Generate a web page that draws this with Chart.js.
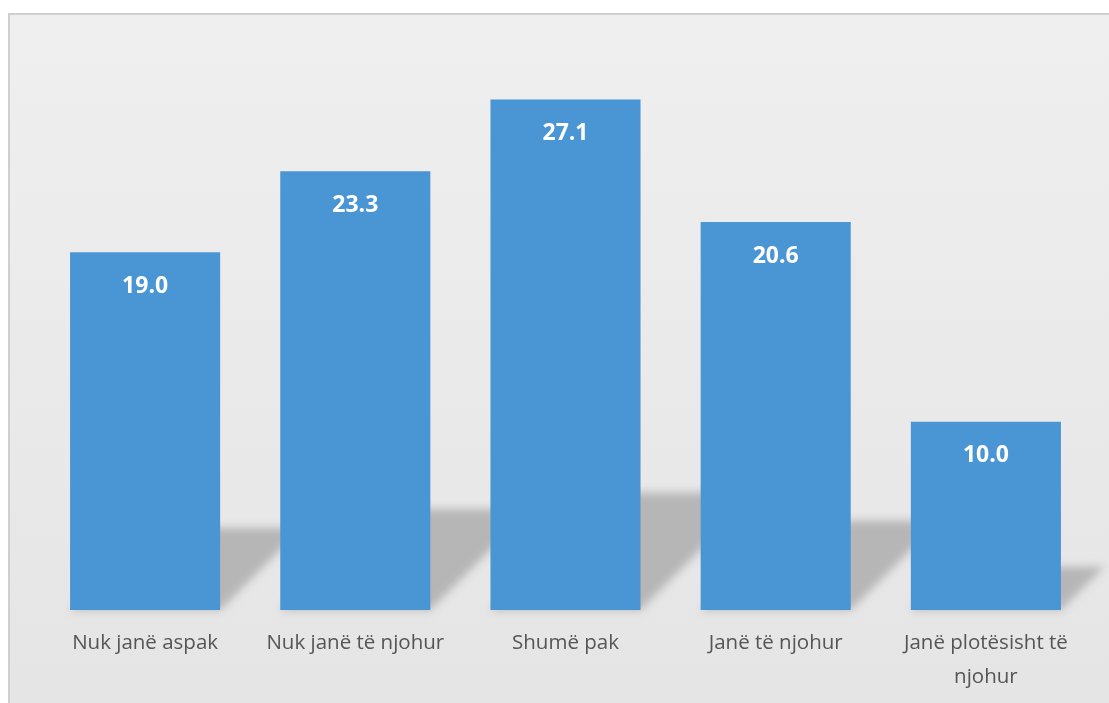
<!DOCTYPE html>
<html>
<head>
<meta charset="utf-8">
<script src="https://cdn.jsdelivr.net/npm/chart.js@4.4.0/dist/chart.umd.min.js"></script>
<style>
  html, body { margin: 0; padding: 0; background: #ffffff; }
  #wrap { width: 1109px; height: 703px; position: relative; }
</style>
</head>
<body>
<div id="wrap"><canvas id="barChart"></canvas></div>
<script>
// Datos del gráfico
const categories = ['Nuk janë aspak', 'Nuk janë të njohur', 'Shumë pak', 'Janë të njohur', ['Janë plotësisht të', 'njohur']];
const values = [19.0, 23.3, 27.1, 20.6, 10.0];

const barColor = '#4a96d4';
const fontFamily = '"Open Sans", Lato, sans-serif';

// Fondo con marco gris y degradado suave
const panelPlugin = {
  id: 'panel',
  beforeDraw(chart) {
    const ctx = chart.ctx;
    const w = chart.width, h = chart.height;
    ctx.save();
    const grad = ctx.createLinearGradient(0, 14, 0, h);
    grad.addColorStop(0, '#efefef');
    grad.addColorStop(1, '#e5e5e5');
    ctx.fillStyle = grad;
    ctx.fillRect(9, 14, w - 9, h - 14);
    ctx.strokeStyle = '#cfcfcf';
    ctx.lineWidth = 2;
    ctx.beginPath();
    ctx.moveTo(9, h);
    ctx.lineTo(9, 14);
    ctx.lineTo(w, 14);
    ctx.stroke();
    ctx.restore();
  }
};

// Sombra oblicua detrás de cada barra
const shadowPlugin = {
  id: 'barShadow',
  beforeDatasetsDraw(chart) {
    const ctx = chart.ctx;
    const meta = chart.getDatasetMeta(0);
    ctx.save();
    ctx.filter = 'blur(4px)';
    ctx.fillStyle = '#b6b6b6';
    meta.data.forEach(bar => {
      const left = bar.x - bar.width / 2;
      const right = bar.x + bar.width / 2;
      const rise = (bar.base - bar.y) * 0.23;
      ctx.beginPath();
      ctx.moveTo(left, bar.base);
      ctx.lineTo(right, bar.base);
      ctx.lineTo(right + rise, bar.base - rise);
      ctx.lineTo(left + rise, bar.base - rise);
      ctx.closePath();
      ctx.fill();
    });
    ctx.restore();
  }
};

// Etiquetas de valor dentro de las barras
const valueLabels = {
  id: 'valueLabels',
  afterDatasetsDraw(chart) {
    const ctx = chart.ctx;
    const meta = chart.getDatasetMeta(0);
    ctx.save();
    ctx.fillStyle = '#ffffff';
    ctx.font = 'bold 23px ' + fontFamily;
    ctx.textAlign = 'center';
    ctx.textBaseline = 'middle';
    meta.data.forEach((bar, i) => {
      ctx.fillText(values[i].toFixed(1), bar.x, bar.y + 34);
    });
    ctx.restore();
  }
};

const ctx = document.getElementById('barChart').getContext('2d');
const chart = new Chart(ctx, {
  type: 'bar',
  data: {
    labels: categories,
    datasets: [{
      data: values,
      backgroundColor: barColor,
      borderWidth: 0,
      categoryPercentage: 1,
      barPercentage: 0.714
    }]
  },
  options: {
    responsive: true,
    maintainAspectRatio: false,
    animation: false,
    layout: {
      padding: { left: 40, right: 18, top: 45, bottom: 0 }
    },
    plugins: {
      legend: { display: false },
      tooltip: { enabled: false }
    },
    scales: {
      x: {
        grid: { display: false, drawTicks: false },
        border: { display: false },
        ticks: {
          color: '#555555',
          padding: 16,
          maxRotation: 0,
          autoSkip: false,
          font: { family: fontFamily, size: 20.5, lineHeight: 1.66 }
        },
        afterFit(scale) { scale.height = 93; }
      },
      y: {
        display: false,
        min: 0,
        max: 30
      }
    }
  },
  plugins: [panelPlugin, shadowPlugin, valueLabels]
});
</script>
</body>
</html>
